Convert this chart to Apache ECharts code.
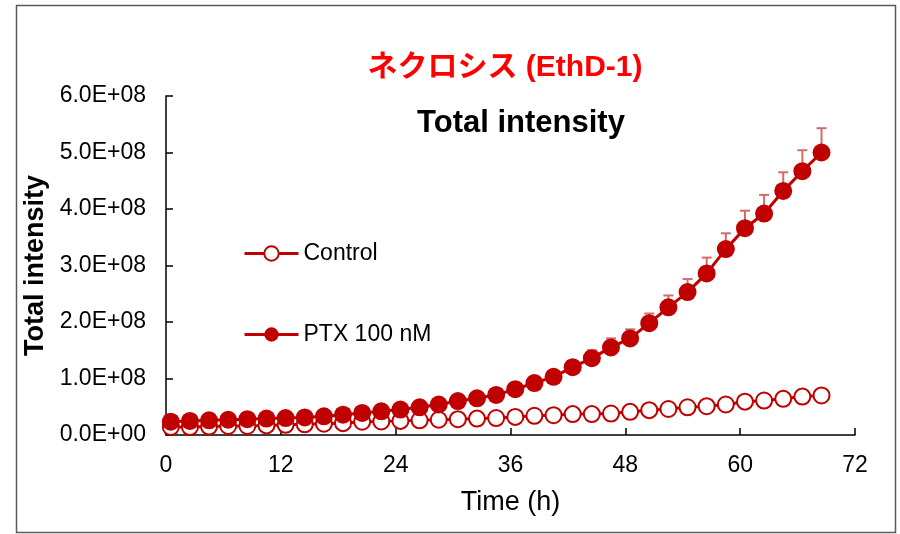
<!DOCTYPE html>
<html>
<head>
<meta charset="utf-8">
<script src="https://cdn.jsdelivr.net/npm/echarts@6/dist/echarts.min.js"></script>
<style>
html,body{margin:0;padding:0;background:#fff;}
#chart{width:900px;height:534px;}
</style>
</head>
<body>
<div id="chart"></div>
<script>
// Time points (h)
var times = [0.5, 2.5, 4.5, 6.5, 8.5, 10.5, 12.5, 14.5, 16.5, 18.5, 20.5, 22.5, 24.5, 26.5, 28.5, 30.5, 32.5, 34.5,
             36.5, 38.5, 40.5, 42.5, 44.5, 46.5, 48.5, 50.5, 52.5, 54.5, 56.5, 58.5, 60.5, 62.5, 64.5, 66.5, 68.5];
// Control total intensity
var controlValues = [0.14e8, 0.14e8, 0.15e8, 0.16e8, 0.16e8, 0.17e8, 0.18e8, 0.19e8, 0.20e8, 0.21e8, 0.235e8, 0.24e8,
                     0.25e8, 0.26e8, 0.27e8, 0.28e8, 0.29e8, 0.30e8, 0.32e8, 0.34e8, 0.35e8, 0.37e8, 0.37e8, 0.38e8,
                     0.41e8, 0.44e8, 0.46e8, 0.49e8, 0.51e8, 0.54e8, 0.59e8, 0.61e8, 0.64e8, 0.68e8, 0.70e8];
// PTX 100 nM total intensity
var ptxValues = [0.236e8, 0.248e8, 0.26e8, 0.27e8, 0.28e8, 0.29e8, 0.30e8, 0.31e8, 0.33e8, 0.36e8, 0.39e8, 0.42e8,
                 0.45e8, 0.49e8, 0.54e8, 0.60e8, 0.65e8, 0.71e8, 0.81e8, 0.92e8, 1.03e8, 1.20e8, 1.36e8, 1.55e8,
                 1.71e8, 1.98e8, 2.26e8, 2.53e8, 2.86e8, 3.29e8, 3.66e8, 3.92e8, 4.32e8, 4.67e8, 5.00e8];
// PTX 100 nM error (upper)
var ptxErrors = [0.02e8, 0.02e8, 0.02e8, 0.02e8, 0.02e8, 0.03e8, 0.03e8, 0.03e8, 0.03e8, 0.04e8, 0.04e8, 0.04e8,
                 0.05e8, 0.05e8, 0.05e8, 0.06e8, 0.06e8, 0.07e8, 0.08e8, 0.09e8, 0.10e8, 0.11e8, 0.14e8, 0.16e8,
                 0.16e8, 0.17e8, 0.21e8, 0.23e8, 0.28e8, 0.28e8, 0.31e8, 0.33e8, 0.33e8, 0.37e8, 0.43e8];
var seriesNames = ['Control', 'PTX 100 nM'];
var xTickLabels = ['0', '12', '24', '36', '48', '60', '72'];
var yTickLabels = ['0.0E+00', '1.0E+08', '2.0E+08', '3.0E+08', '4.0E+08', '5.0E+08', '6.0E+08'];
var titleText = 'ネクロシス (EthD-1)';
var subtitleText = 'Total intensity';
var xAxisName = 'Time (h)';
var yAxisName = 'Total intensity';

var RED = '#C00000';
var FONT = '"Liberation Sans", Arial, "Noto Sans CJK JP", sans-serif';

function pairs(xs, ys) { return xs.map(function (x, i) { return [x, ys[i]]; }); }
var errData = times.map(function (t, i) { return [t, ptxValues[i], ptxErrors[i]]; });

var chart = echarts.init(document.getElementById('chart'), null, {renderer: 'canvas'});
var option = {
  backgroundColor: '#fff',
  animation: false,
  textStyle: {fontFamily: FONT},
  title: [
    {text: titleText, left: 500, top: 48, textAlign: 'center',
     textStyle: {color: '#FF0000', fontSize: 30, fontWeight: 'bold', fontFamily: FONT}},
    {text: subtitleText, left: 516, top: 103, textAlign: 'center',
     textStyle: {color: '#000', fontSize: 31, fontWeight: 'bold', fontFamily: FONT}}
  ],
  graphic: [{
    type: 'rect', shape: {x: 16.5, y: 5.5, width: 879, height: 527},
    style: {fill: 'none', stroke: '#595959', lineWidth: 1.5}, silent: true, z: -1
  }],
  legend: {
    orient: 'vertical', left: 243, top: 242, itemGap: 58, padding: 0,
    itemWidth: 54, itemHeight: 18,
    data: seriesNames,
    lineStyle: {width: 3},
    textStyle: {fontSize: 23, color: '#000', fontFamily: FONT}
  },
  grid: {left: 166, right: 45, top: 96, bottom: 99, containLabel: false},
  xAxis: {
    type: 'value', min: 0, max: 72, interval: 12,
    name: xAxisName, nameLocation: 'middle', nameGap: 54,
    nameTextStyle: {fontSize: 27, color: '#000', fontFamily: FONT},
    axisLine: {onZero: false, lineStyle: {color: '#000', width: 1.5}},
    axisTick: {inside: true, length: 7, lineStyle: {color: '#000', width: 1.5}},
    axisLabel: {fontSize: 23, color: '#000', margin: 19, fontFamily: FONT,
      formatter: function (v, i) { return xTickLabels[i]; }},
    splitLine: {show: false}
  },
  yAxis: {
    type: 'value', min: 0, max: 6e8, interval: 1e8,
    name: yAxisName, nameLocation: 'middle', nameGap: 110,
    nameTextStyle: {fontSize: 27, fontWeight: 'bold', color: '#000', fontFamily: FONT},
    axisLine: {show: true, lineStyle: {color: '#000', width: 1.5}},
    axisTick: {show: true, inside: true, length: 7, lineStyle: {color: '#000', width: 1.5}},
    axisLabel: {fontSize: 23, color: '#000', margin: 20, fontFamily: FONT,
      formatter: function (v, i) { return yTickLabels[i]; }},
    splitLine: {show: false}
  },
  series: [
    {
      name: seriesNames[0], type: 'line', data: pairs(times, controlValues),
      symbol: 'emptyCircle', symbolSize: 16,
      itemStyle: {color: RED, borderColor: RED, borderWidth: 2},
      lineStyle: {color: RED, width: 3}, z: 2
    },
    {
      name: 'PTX error', type: 'custom', data: errData, z: 3, silent: true,
      encode: {x: 0, y: 1},
      renderItem: function (params, api) {
        var x = api.value(0), y = api.value(1), e = api.value(2);
        var p0 = api.coord([x, y]);
        var p1 = api.coord([x, y + e]);
        var style = {stroke: '#D46A6A', lineWidth: 2};
        return {type: 'group', children: [
          {type: 'line', shape: {x1: p0[0], y1: p0[1], x2: p1[0], y2: p1[1]}, style: style},
          {type: 'line', shape: {x1: p1[0] - 5, y1: p1[1], x2: p1[0] + 5, y2: p1[1]}, style: style}
        ]};
      }
    },
    {
      name: seriesNames[1], type: 'line', data: pairs(times, ptxValues),
      symbol: 'circle', symbolSize: 18,
      itemStyle: {color: RED},
      lineStyle: {color: RED, width: 3}, z: 4
    }
  ]
};
chart.setOption(option);
</script>
</body>
</html>
